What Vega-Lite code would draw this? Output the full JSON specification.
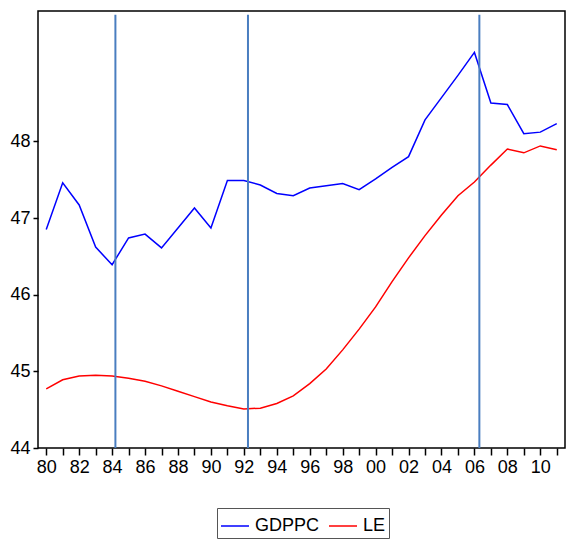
{
  "$schema": "https://vega.github.io/schema/vega-lite/v6.json",
  "width": 527,
  "height": 437,
  "autosize": {"type": "none"},
  "padding": {"left": 38, "top": 11, "right": 1, "bottom": 95},
  "background": "white",
  "config": {
    "view": {"stroke": "#000000", "strokeWidth": 1.5},
    "font": "Liberation Sans Narrow, Arial Narrow, Liberation Sans, sans-serif"
  },
  "datasets": {
    "series": [
      {"year": 1980, "series": "GDPPC", "value": 46.85},
      {"year": 1981, "series": "GDPPC", "value": 47.46},
      {"year": 1982, "series": "GDPPC", "value": 47.17},
      {"year": 1983, "series": "GDPPC", "value": 46.62},
      {"year": 1984, "series": "GDPPC", "value": 46.39},
      {"year": 1985, "series": "GDPPC", "value": 46.74},
      {"year": 1986, "series": "GDPPC", "value": 46.79},
      {"year": 1987, "series": "GDPPC", "value": 46.61},
      {"year": 1988, "series": "GDPPC", "value": 46.87},
      {"year": 1989, "series": "GDPPC", "value": 47.13},
      {"year": 1990, "series": "GDPPC", "value": 46.87},
      {"year": 1991, "series": "GDPPC", "value": 47.49},
      {"year": 1992, "series": "GDPPC", "value": 47.49},
      {"year": 1993, "series": "GDPPC", "value": 47.43},
      {"year": 1994, "series": "GDPPC", "value": 47.32},
      {"year": 1995, "series": "GDPPC", "value": 47.29},
      {"year": 1996, "series": "GDPPC", "value": 47.39},
      {"year": 1997, "series": "GDPPC", "value": 47.42},
      {"year": 1998, "series": "GDPPC", "value": 47.45},
      {"year": 1999, "series": "GDPPC", "value": 47.37},
      {"year": 2000, "series": "GDPPC", "value": 47.51},
      {"year": 2001, "series": "GDPPC", "value": 47.66},
      {"year": 2002, "series": "GDPPC", "value": 47.80},
      {"year": 2003, "series": "GDPPC", "value": 48.28},
      {"year": 2004, "series": "GDPPC", "value": 48.57},
      {"year": 2005, "series": "GDPPC", "value": 48.86},
      {"year": 2006, "series": "GDPPC", "value": 49.16},
      {"year": 2007, "series": "GDPPC", "value": 48.50},
      {"year": 2008, "series": "GDPPC", "value": 48.48},
      {"year": 2009, "series": "GDPPC", "value": 48.10},
      {"year": 2010, "series": "GDPPC", "value": 48.12},
      {"year": 2011, "series": "GDPPC", "value": 48.23},
      {"year": 1980, "series": "LE", "value": 44.77},
      {"year": 1981, "series": "LE", "value": 44.89},
      {"year": 1982, "series": "LE", "value": 44.94},
      {"year": 1983, "series": "LE", "value": 44.95},
      {"year": 1984, "series": "LE", "value": 44.94},
      {"year": 1985, "series": "LE", "value": 44.91},
      {"year": 1986, "series": "LE", "value": 44.87},
      {"year": 1987, "series": "LE", "value": 44.81},
      {"year": 1988, "series": "LE", "value": 44.74},
      {"year": 1989, "series": "LE", "value": 44.67},
      {"year": 1990, "series": "LE", "value": 44.60},
      {"year": 1991, "series": "LE", "value": 44.55},
      {"year": 1992, "series": "LE", "value": 44.51},
      {"year": 1993, "series": "LE", "value": 44.52},
      {"year": 1994, "series": "LE", "value": 44.58},
      {"year": 1995, "series": "LE", "value": 44.68},
      {"year": 1996, "series": "LE", "value": 44.84},
      {"year": 1997, "series": "LE", "value": 45.03},
      {"year": 1998, "series": "LE", "value": 45.28},
      {"year": 1999, "series": "LE", "value": 45.55},
      {"year": 2000, "series": "LE", "value": 45.84},
      {"year": 2001, "series": "LE", "value": 46.17},
      {"year": 2002, "series": "LE", "value": 46.48},
      {"year": 2003, "series": "LE", "value": 46.77},
      {"year": 2004, "series": "LE", "value": 47.04},
      {"year": 2005, "series": "LE", "value": 47.29},
      {"year": 2006, "series": "LE", "value": 47.47},
      {"year": 2007, "series": "LE", "value": 47.69},
      {"year": 2008, "series": "LE", "value": 47.90},
      {"year": 2009, "series": "LE", "value": 47.85},
      {"year": 2010, "series": "LE", "value": 47.94},
      {"year": 2011, "series": "LE", "value": 47.89}
    ],
    "breaks": [
      {"year": 1984.2, "value": 49.65, "value2": 44},
      {"year": 1992.25, "value": 49.65, "value2": 44},
      {"year": 2006.3, "value": 49.65, "value2": 44}
    ]
  },
  "encoding": {
    "x": {
      "field": "year",
      "type": "quantitative",
      "scale": {"domain": [1979.5, 2011.5], "nice": false, "zero": false},
      "axis": {
        "title": null,
        "grid": false,
        "domain": false,
        "values": [1980,1981,1982,1983,1984,1985,1986,1987,1988,1989,1990,1991,1992,1993,1994,1995,1996,1997,1998,1999,2000,2001,2002,2003,2004,2005,2006,2007,2008,2009,2010,2011],
        "labelExpr": "datum.value % 2 == 0 ? slice(toString(datum.value), 2) : ''",
        "tickColor": "#000000",
        "tickSize": 7,
        "tickWidth": 1.5,
        "labelFontSize": 18,
        "labelColor": "#000000",
        "labelPadding": 3,
        "labelFlush": false,
        "labelOverlap": false,
        "labelBound": false
      }
    },
    "y": {
      "field": "value",
      "type": "quantitative",
      "scale": {"domain": [44, 49.7], "nice": false, "zero": false},
      "axis": {
        "title": null,
        "grid": false,
        "domain": false,
        "values": [44, 45, 46, 47, 48],
        "format": "d",
        "tickColor": "#000000",
        "tickSize": 5,
        "tickWidth": 1.5,
        "labelFontSize": 18,
        "labelColor": "#000000",
        "labelPadding": 3,
        "labelFlush": false
      }
    }
  },
  "layer": [
    {
      "data": {"name": "series"},
      "mark": {"type": "line", "strokeWidth": 1.5, "clip": true},
      "encoding": {
        "color": {
          "field": "series",
          "type": "nominal",
          "scale": {"domain": ["GDPPC", "LE"], "range": ["#0000FF", "#FF0000"]},
          "legend": {
            "title": null,
            "orient": "none",
            "direction": "horizontal",
            "legendX": 179,
            "legendY": 497,
            "symbolType": "stroke",
            "symbolSize": 784,
            "symbolStrokeWidth": 1.5,
            "labelFontSize": 18,
            "labelColor": "#000000",
            "strokeColor": "#555555",
            "padding": 3,
            "columnPadding": 6,
            "labelOffset": 5
          }
        }
      }
    },
    {
      "data": {"name": "breaks"},
      "mark": {"type": "rule", "color": "#4A7EC0", "strokeWidth": 2},
      "encoding": {
        "y2": {"field": "value2"}
      }
    }
  ]
}
